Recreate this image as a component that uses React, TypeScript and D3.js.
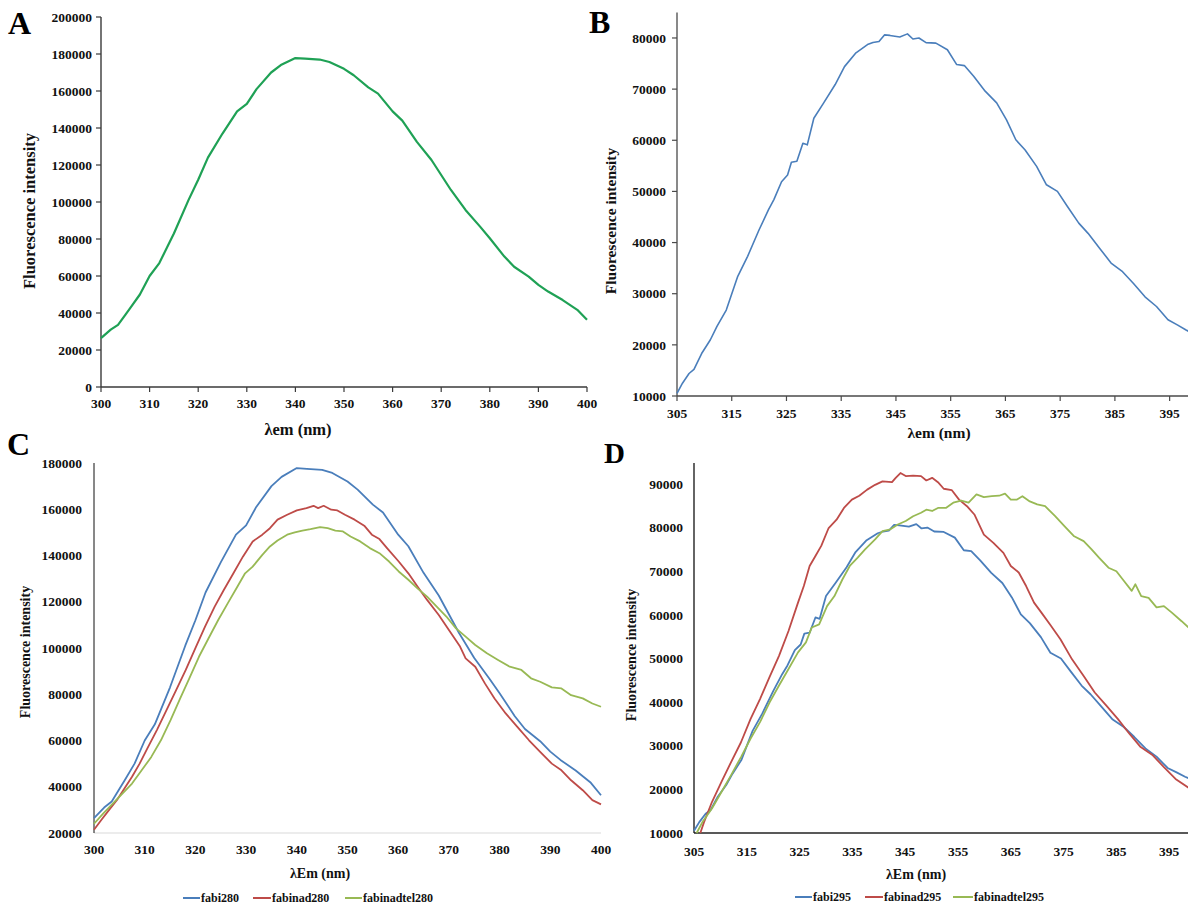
import React from 'react';
import * as d3 from 'd3';

type P = [number, number];

// ---------- DATA ----------
// Panel A / C blue: fabi280 (λex 280 nm)
const fabi280: P[] = [
  [300, 26400], [302, 31000], [303.5, 33600], [305, 39000], [306, 42600], [308, 50000], [310, 60000],
  [312, 67000], [315, 83000], [318, 101000], [320, 112000], [322, 124000], [325, 137000], [328, 149000],
  [330, 153000], [332, 161000], [335, 170000], [337, 174000], [340, 177800], [342, 177500], [345, 177000],
  [347, 175700], [350, 172000], [352, 168500], [355, 162000], [357, 158600], [360, 149000], [362, 144000],
  [365, 132500], [368, 122700], [370, 114600], [372, 106500], [375, 95700], [378, 86700], [380, 80400],
  [383, 70500], [385, 65000], [388, 59700], [390, 55200], [392, 51600], [395, 47000], [398, 41700], [400, 36300],
];

// Panel C red: fabinad280
const fabinad280: P[] = [
  [300, 21400], [301.4, 25500], [302.9, 29800], [304.5, 34200], [306, 39200], [307.5, 44300], [309, 50000],
  [310.5, 56500], [312.4, 64500], [314.3, 73100], [316.2, 81800], [318.1, 90500], [320, 99900], [321.9, 109200],
  [323.8, 117900], [325.6, 125100], [327.5, 132300], [329.4, 139600], [331.3, 146100], [333.2, 149000],
  [334.7, 151800], [336.2, 155500], [338.1, 157600], [340, 159500], [341.9, 160500], [343.3, 161500],
  [344.2, 160500], [345.3, 161500], [346.8, 159800], [348, 159500], [349.5, 157600], [351.4, 155500],
  [353.3, 152900], [354.8, 149000], [356.3, 147100], [357.8, 143200], [360.1, 137400], [362, 132300],
  [363.8, 126600], [365.7, 120800], [368, 114300], [370.2, 107100], [372.2, 100600], [373.3, 95500],
  [375.2, 91900], [377.1, 84700], [379, 78200], [381.2, 71700], [383.5, 65900], [385.8, 60100], [388, 55100],
  [390.3, 50000], [392.2, 47100], [394.1, 42800], [396.4, 38500], [398.3, 34200], [400, 32400],
];

// Panel C green: fabinadtel280
const fabinadtel280: P[] = [
  [300, 24000], [301.8, 28400], [303.7, 32700], [305.6, 37000], [307.5, 41400], [309.4, 47100], [311.3, 52900],
  [313.2, 60100], [315.1, 68800], [317, 78200], [318.8, 86900], [320.7, 96200], [322.6, 104200], [324.5, 112100],
  [326.4, 119400], [328.3, 126600], [329.8, 132300], [331.3, 135200], [333.2, 140300], [334.7, 143900],
  [336.2, 146500], [338.1, 149000], [339.6, 150000], [341.1, 150800], [342.7, 151400], [344.6, 152300],
  [346.1, 151800], [347.6, 150800], [349.1, 150400], [350.6, 148200], [352.5, 146100], [354.4, 143200],
  [356.3, 141000], [358.2, 137400], [360.1, 133100], [362, 129500], [363.8, 125800], [365.7, 122200],
  [367.6, 117900], [369.5, 113600], [371.4, 108500], [373.3, 104900], [375.2, 101300], [377.5, 97700],
  [379.7, 94800], [382, 91900], [384.3, 90500], [386.2, 86900], [388, 85400], [390.3, 83000], [392.2, 82500],
  [394.1, 79600], [396.4, 78200], [398.3, 76000], [400, 74600],
];

// Panel B / D blue: fabi295 (λex 295 nm)
const fabi295: P[] = [
  [305, 10500], [306, 12500], [307.2, 14400], [308.1, 15200], [309.5, 18300], [311.1, 21000], [312.3, 23600],
  [314, 26800], [316.1, 33400], [317.9, 37300], [320, 42500], [321.7, 46400], [322.7, 48400], [324.1, 51900],
  [325.2, 53200], [325.9, 55700], [326.9, 55900], [328, 59400], [328.8, 59100], [330, 64300], [331.8, 67300],
  [333.9, 70900], [335.6, 74400], [337.7, 77100], [339.8, 78700], [340.8, 79100], [341.9, 79300], [342.9, 80600],
  [343.9, 80500], [345.7, 80200], [347.1, 80800], [348.1, 79800], [349.2, 80000], [350.5, 79100], [352.3, 79000],
  [354.4, 77700], [356.1, 74800], [357.5, 74600], [359.2, 72500], [361.3, 69600], [363.4, 67300], [365.2, 64000],
  [366.9, 60100], [368.6, 58100], [370.7, 54900], [372.5, 51300], [374.5, 50000], [376.3, 47100], [378.4, 43800],
  [380.1, 41800], [382.2, 38900], [384.3, 36000], [386.4, 34300], [388.4, 32000], [390.5, 29400], [392.6, 27500],
  [394.7, 24900], [396.4, 23900], [398, 22900], [400, 21800],
];

// Panel D red: fabinad295
const fabinad295: P[] = [
  [306.2, 10000], [306.9, 12500], [308.4, 17100], [310.2, 21700], [312, 26200], [313.9, 30800], [315.7, 36100],
  [317.5, 40700], [319.3, 45700], [321.1, 50600], [322.9, 56300], [324.7, 62800], [325.8, 66600], [326.9, 71200],
  [328, 73500], [329.1, 75800], [330.5, 79900], [332, 81800], [333.4, 84500], [334.9, 86400], [336.3, 87300],
  [337.8, 88700], [339.3, 89800], [340.7, 90600], [342.5, 90400], [343.2, 91400], [344.1, 92500], [345.1, 91800],
  [346.5, 91900], [348, 91800], [349, 90800], [350.1, 91400], [351.2, 90400], [352.3, 88900], [353.8, 88600],
  [355.2, 86400], [356.7, 84900], [358.1, 83000], [359.9, 78400], [361.7, 76500], [363.6, 74200], [365, 71200],
  [366.5, 69700], [367.9, 66600], [369.4, 62800], [370.8, 60500], [372.6, 57500], [374.4, 54400], [376.6, 49800],
  [378.8, 46000], [380.9, 42200], [383.1, 39200], [385.3, 36100], [387.5, 32700], [389.6, 29700], [391.9, 27800],
  [394, 25100], [396.2, 22400], [399, 20100], [400, 19300],
];

// Panel D green: fabinadtel295
const fabinadtel295: P[] = [
  [305.5, 10000], [306.6, 12500], [308.4, 15600], [310.2, 19400], [312, 23200], [313.9, 27400], [315.7, 31600],
  [317.5, 35400], [319.3, 39900], [321.1, 43800], [322.9, 47600], [324.7, 51400], [326.2, 53700], [327.3, 57100],
  [328.7, 57800], [330.2, 62000], [331.6, 64300], [333.1, 68100], [334.5, 71200], [336, 73100], [337.4, 75000],
  [339.3, 77300], [340.7, 79200], [342.2, 79600], [343.6, 80700], [345.1, 81500], [346.5, 82600], [348, 83400],
  [349, 84100], [350.1, 83800], [351.2, 84500], [352.7, 84500], [354.1, 85700], [355.6, 86200], [357, 85700],
  [358.5, 87600], [359.9, 87000], [361.4, 87200], [362.8, 87300], [363.9, 87800], [365, 86400], [366.1, 86400],
  [367.2, 87200], [368.6, 86000], [370, 85300], [371.5, 84900], [373.4, 82600], [375.2, 80300], [377, 78000],
  [378.8, 76900], [380.3, 75000], [381.7, 73100], [383.5, 70800], [385, 70000], [386.4, 67800], [387.9, 65500],
  [388.6, 67000], [389.7, 64300], [391.1, 63900], [392.6, 61700], [394, 62000], [395.5, 60500], [397.3, 58600],
  [399, 56700], [400, 55800],
];

// Tick labels
const ticksAY = [0, 20000, 40000, 60000, 80000, 100000, 120000, 140000, 160000, 180000, 200000];
const ticksAX = [300, 310, 320, 330, 340, 350, 360, 370, 380, 390, 400];
const ticksBY = [10000, 20000, 30000, 40000, 50000, 60000, 70000, 80000];
const ticksBX = [305, 315, 325, 335, 345, 355, 365, 375, 385, 395];
const ticksCY = [20000, 40000, 60000, 80000, 100000, 120000, 140000, 160000, 180000];
const ticksCX = [300, 310, 320, 330, 340, 350, 360, 370, 380, 390, 400];
const ticksDY = [10000, 20000, 30000, 40000, 50000, 60000, 70000, 80000, 90000];
const ticksDX = [305, 315, 325, 335, 345, 355, 365, 375, 385, 395];

const namesC = ['fabi280', 'fabinad280', 'fabinadtel280'];
const namesD = ['fabi295', 'fabinad295', 'fabinadtel295'];

// ---------- STYLE ----------
const FONT = '"Liberation Serif","Times New Roman",Times,serif';
const BLUE = '#4a7ebb';
const RED = '#be4b48';
const GREEN = '#98b954';
const AGREEN = '#1fa155';

type Series = { data: P[]; color: string; width: number };
type PanelCfg = {
  xd: [number, number]; xr: [number, number];
  yd: [number, number]; yr: [number, number];
  xTicks: number[]; yTicks: number[];
  series: Series[];
  yAxisColor: string; xAxisColor: string; yAxisW: number; xAxisW: number;
  tickLen: number;
  yLabelX: number; xLabelY: number;
  yTitle: [number, number, number]; xTitle: [number, number, number];
  xTitleText: string;
  letter: string; letterPos: [number, number, number];
  legend?: { names: string[]; lines: [number, number][]; y: number };
};

function Panel({ c }: { c: PanelCfg }) {
  const x = d3.scaleLinear().domain(c.xd).range(c.xr);
  const y = d3.scaleLinear().domain(c.yd).range(c.yr);
  const line = d3.line<P>().x((d) => x(d[0])).y((d) => y(d[1]));
  const yb = y(c.yd[0]);
  return (
    <g fontFamily={FONT} fontWeight="bold" fill="#111">
      {/* axes */}
      <line x1={c.xr[0]} x2={c.xr[1]} y1={yb} y2={yb} stroke={c.xAxisColor} strokeWidth={c.xAxisW} />
      <line x1={c.xr[0]} x2={c.xr[0]} y1={c.yr[0]} y2={c.yr[1]} stroke={c.yAxisColor} strokeWidth={c.yAxisW} />
      {c.tickLen > 0 &&
        c.yTicks.map((t) => (
          <line key={'yt' + t} x1={c.xr[0] - c.tickLen} x2={c.xr[0]} y1={y(t)} y2={y(t)} stroke={c.yAxisColor} strokeWidth={1.2} />
        ))}
      {c.tickLen > 0 &&
        c.xTicks.map((t) => (
          <line key={'xt' + t} x1={x(t)} x2={x(t)} y1={yb} y2={yb + c.tickLen} stroke={c.xAxisColor} strokeWidth={1.2} />
        ))}
      {c.yTicks.map((t) => (
        <text key={'yl' + t} x={c.yLabelX} y={y(t)} dy="0.35em" textAnchor="end" fontSize={13.5}>
          {t}
        </text>
      ))}
      {c.xTicks.map((t) => (
        <text key={'xl' + t} x={x(t)} y={c.xLabelY} textAnchor="middle" fontSize={13.5}>
          {t}
        </text>
      ))}
      {/* series */}
      {c.series.map((s, i) => (
        <path key={'s' + i} d={line(s.data) || ''} fill="none" stroke={s.color} strokeWidth={s.width} strokeLinejoin="round" />
      ))}
      {/* titles */}
      <text transform={`translate(${c.yTitle[0]},${c.yTitle[1]}) rotate(-90)`} dy="0.35em" textAnchor="middle" fontSize={c.yTitle[2]}>
        Fluorescence intensity
      </text>
      <text x={c.xTitle[0]} y={c.xTitle[1]} textAnchor="middle" fontSize={c.xTitle[2]}>
        {c.xTitleText}
      </text>
      <text x={c.letterPos[0]} y={c.letterPos[1]} fontSize={c.letterPos[2]} fill="#000">
        {c.letter}
      </text>
      {c.legend &&
        c.legend.names.map((n, i) => (
          <g key={'lg' + n}>
            <line x1={c.legend!.lines[i][0]} x2={c.legend!.lines[i][1]} y1={c.legend!.y} y2={c.legend!.y} stroke={c.series[i].color} strokeWidth={2} />
            <text x={c.legend!.lines[i][1] + 1} y={c.legend!.y + 4} fontSize={12}>
              {n}
            </text>
          </g>
        ))}
    </g>
  );
}

const panelA: PanelCfg = {
  xd: [300, 400], xr: [101, 587], yd: [0, 200000], yr: [387, 17],
  xTicks: ticksAX, yTicks: ticksAY,
  series: [{ data: fabi280, color: AGREEN, width: 2.2 }],
  yAxisColor: '#3a3a3a', xAxisColor: '#3a3a3a', yAxisW: 1.4, xAxisW: 1.4, tickLen: 5,
  yLabelX: 92, xLabelY: 408,
  yTitle: [29, 211, 16.5], xTitle: [298, 435, 16.5], xTitleText: 'λem (nm)',
  letter: 'A', letterPos: [8, 34, 32],
};

const panelB: PanelCfg = {
  xd: [305, 400], xr: [677, 1197], yd: [10000, 85000], yr: [396, 12.4],
  xTicks: ticksBX, yTicks: ticksBY,
  series: [{ data: fabi295, color: BLUE, width: 1.6 }],
  yAxisColor: '#4a4a4a', xAxisColor: '#4a4a4a', yAxisW: 1.3, xAxisW: 1.3, tickLen: 5,
  yLabelX: 666, xLabelY: 418,
  yTitle: [611, 221, 15.5], xTitle: [939, 438, 15.5], xTitleText: 'λem (nm)',
  letter: 'B', letterPos: [589, 33, 32],
};

const panelC: PanelCfg = {
  xd: [300, 400], xr: [94, 601], yd: [20000, 180000], yr: [833, 463],
  xTicks: ticksCX, yTicks: ticksCY,
  series: [
    { data: fabi280, color: BLUE, width: 1.8 },
    { data: fabinad280, color: RED, width: 1.8 },
    { data: fabinadtel280, color: GREEN, width: 1.8 },
  ],
  yAxisColor: '#111', xAxisColor: '#d9d9d9', yAxisW: 1, xAxisW: 1, tickLen: 0,
  yLabelX: 82, xLabelY: 854,
  yTitle: [25, 652, 14], xTitle: [320, 878, 14], xTitleText: 'λEm (nm)',
  letter: 'C', letterPos: [7, 455, 32],
  legend: { names: namesC, lines: [[183, 200], [253, 271], [345, 362]], y: 898 },
};

const panelD: PanelCfg = {
  xd: [305, 400], xr: [694, 1195.6], yd: [10000, 94800], yr: [833, 463],
  xTicks: ticksDX, yTicks: ticksDY,
  series: [
    { data: fabi295, color: BLUE, width: 1.8 },
    { data: fabinad295, color: RED, width: 1.8 },
    { data: fabinadtel295, color: GREEN, width: 1.8 },
  ],
  yAxisColor: '#111', xAxisColor: '#222', yAxisW: 1.3, xAxisW: 1.5, tickLen: 0,
  yLabelX: 683, xLabelY: 856,
  yTitle: [631, 655, 14], xTitle: [916, 879, 14], xTitleText: 'λEm (nm)',
  letter: 'D', letterPos: [604, 463, 29],
  legend: { names: namesD, lines: [[795, 812], [865, 883], [953, 973]], y: 897 },
};

export default function App() {
  return (
    <svg
      width={1188}
      height={907}
      viewBox="0 0 1188 907"
      style={{ position: 'absolute', left: 0, top: 0, background: '#fff' }}
    >
      <rect x={0} y={0} width={1188} height={907} fill="#fff" />
      <Panel c={panelA} />
      <Panel c={panelB} />
      <Panel c={panelC} />
      <Panel c={panelD} />
    </svg>
  );
}
